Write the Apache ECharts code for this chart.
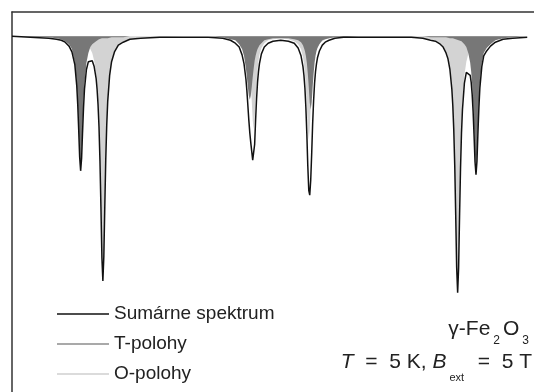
<!DOCTYPE html>
<html lang="sk">
  <head>
    <meta charset="UTF-8" />
    <title>Mössbauerovo spektrum γ-Fe2O3</title>
    <script src="https://cdn.jsdelivr.net/npm/echarts@6/dist/echarts.min.js"></script>
    <style>
      html, body { margin: 0; padding: 0; background: #fff; }
      #chart { width: 534px; height: 392px; }
    </style>
  </head>
  <body>
    <div id="chart"></div>
  </body>
</html>
<script>
  // kanály (os x) a relatívna absorpcia v % (0 = základná čiara)
  const channels = [
    0, 38, 46, 51, 55, 59, 62, 65, 67, 68,
    69, 70, 71, 72, 73, 74, 75, 77, 79, 81,
    83, 85, 87, 88, 89, 90, 91, 92, 93, 94,
    95, 96, 97, 98, 99, 101, 103, 106, 110, 115,
    122, 133, 153, 178, 203, 218, 226, 231, 235, 238,
    240, 242, 243, 244, 245, 246, 247, 248, 249, 250,
    251, 252, 253, 254, 255, 256, 258, 261, 265, 270,
    278, 286, 292, 296, 299, 301, 302, 303, 304, 305,
    306, 307, 308, 309, 310, 311, 312, 313, 314, 315,
    316, 318, 321, 324, 328, 334, 343, 358, 378, 398,
    413, 425, 433, 438, 443, 446, 449, 451, 453, 455,
    456, 457, 458, 459, 460, 461, 462, 463, 464, 465,
    466, 468, 470, 472, 474, 475, 476, 477, 478, 479,
    480, 481, 482, 483, 484, 486, 488, 491, 495, 500,
    508, 518, 533,
  ];
  const tPolohy = [
    0, -0.1, -0.2, -0.3, -0.5, -0.8, -1.3, -2.7, -4.8, -6.7,
    -9.3, -12.1, -13.4, -12.1, -9.3, -6.7, -4.8, -2.7, -1.7, -1.1,
    -0.8, -0.6, -0.5, -0.4, -0.4, -0.3, -0.3, -0.3, -0.2, -0.2,
    -0.2, -0.2, -0.2, -0.2, -0.2, -0.1, -0.1, -0.1, -0.1, -0.1,
    0, 0, 0, 0, 0, -0.1, -0.3, -0.4, -0.8, -1.3,
    -2.0, -3.3, -4.2, -5.2, -6.1, -6.5, -6.1, -5.2, -4.2, -3.3,
    -2.5, -2.0, -1.6, -1.3, -1.1, -0.9, -0.7, -0.4, -0.3, -0.2,
    -0.2, -0.2, -0.3, -0.4, -0.6, -0.9, -1.2, -1.5, -2.0, -2.7,
    -3.8, -5.2, -6.8, -7.5, -6.8, -5.2, -3.8, -2.7, -2.0, -1.5,
    -1.2, -0.8, -0.4, -0.3, -0.2, -0.1, -0.1, 0, 0, 0,
    0, 0, -0.1, -0.1, -0.1, -0.1, -0.1, -0.1, -0.2, -0.2,
    -0.2, -0.2, -0.2, -0.3, -0.3, -0.3, -0.4, -0.4, -0.5, -0.5,
    -0.6, -0.8, -1.1, -1.7, -2.7, -3.6, -4.9, -6.8, -9.4, -12.2,
    -13.6, -12.2, -9.4, -6.8, -4.9, -2.7, -1.7, -1.2, -0.8, -0.4,
    -0.2, -0.1, 0,
  ];
  const oPolohy = [
    0, -0.1, -0.1, -0.1, -0.1, -0.2, -0.2, -0.3, -0.3, -0.3,
    -0.4, -0.4, -0.4, -0.5, -0.5, -0.5, -0.6, -0.8, -1.0, -1.3,
    -1.7, -2.5, -3.9, -5.0, -6.6, -9.0, -12.5, -17.2, -22.4, -24.9,
    -22.4, -17.2, -12.5, -9.0, -6.6, -3.9, -2.5, -1.5, -0.8, -0.5,
    -0.3, -0.1, -0.1, 0, 0, -0.1, -0.2, -0.2, -0.4, -0.6,
    -0.8, -1.2, -1.5, -1.9, -2.5, -3.4, -4.8, -6.6, -8.6, -9.5,
    -8.6, -6.6, -4.8, -3.4, -2.5, -1.9, -1.2, -0.7, -0.4, -0.3,
    -0.2, -0.3, -0.5, -0.8, -1.3, -2.1, -2.8, -3.8, -5.3, -7.3,
    -9.5, -10.6, -9.5, -7.3, -5.3, -3.8, -2.8, -2.1, -1.6, -1.3,
    -1.1, -0.7, -0.5, -0.3, -0.2, -0.1, -0.1, -0.1, -0.1, -0.1,
    -0.1, -0.2, -0.3, -0.4, -0.7, -1.0, -1.5, -2.1, -3.2, -5.2,
    -6.9, -9.4, -13.0, -18.0, -23.4, -26.0, -23.4, -18.0, -13.0, -9.4,
    -6.9, -4.0, -2.6, -1.8, -1.3, -1.1, -1.0, -0.9, -0.8, -0.7,
    -0.6, -0.6, -0.5, -0.5, -0.4, -0.4, -0.3, -0.3, -0.2, -0.2,
    -0.1, -0.1, 0,
  ];
  const sumarne = [
    0, -0.2, -0.3, -0.4, -0.6, -1.0, -1.6, -2.9, -5.1, -7.0,
    -9.6, -12.4, -13.8, -12.5, -9.8, -7.3, -5.4, -3.4, -2.6, -2.4,
    -2.5, -3.1, -4.3, -5.4, -7.0, -9.3, -12.8, -17.5, -22.7, -25.1,
    -22.6, -17.4, -12.6, -9.1, -6.7, -4.0, -2.6, -1.6, -0.9, -0.6,
    -0.3, -0.2, -0.1, -0.1, -0.1, -0.2, -0.4, -0.7, -1.1, -1.9,
    -2.8, -4.4, -5.6, -7.1, -8.6, -9.9, -10.9, -11.8, -12.7, -12.8,
    -11.1, -8.6, -6.4, -4.7, -3.6, -2.8, -1.8, -1.1, -0.7, -0.5,
    -0.4, -0.5, -0.7, -1.2, -2.0, -3.1, -4.0, -5.3, -7.3, -10.0,
    -13.3, -15.8, -16.3, -14.8, -12.1, -9.0, -6.6, -4.8, -3.6, -2.8,
    -2.2, -1.5, -0.9, -0.6, -0.4, -0.2, -0.1, -0.1, -0.1, -0.1,
    -0.1, -0.2, -0.4, -0.5, -0.8, -1.1, -1.7, -2.3, -3.4, -5.4,
    -7.1, -9.6, -13.2, -18.3, -23.7, -26.3, -23.8, -18.4, -13.5, -9.9,
    -7.5, -4.8, -3.7, -3.5, -4.0, -4.7, -5.9, -7.7, -10.2, -12.9,
    -14.2, -12.8, -9.9, -7.3, -5.3, -3.1, -2.0, -1.5, -1.0, -0.6,
    -0.3, -0.2, -0.1,
  ];
  const seriesNames = ["Sumárne spektrum", "T-polohy", "O-polohy"];

  const pairs = (arr) => channels.map((c, i) => [c, arr[i]]);
  const font = "'Liberation Sans', Arial, sans-serif";

  const chart = echarts.init(document.getElementById("chart"));
  const option = {
    animation: false,
    backgroundColor: "#fff",
    grid: { left: 12, top: 12, right: -18, bottom: -10 },
    xAxis: {
      type: "value",
      min: 0,
      max: 540,
      position: "top",
      axisLine: { show: true, onZero: false, lineStyle: { color: "#333", width: 1.5 } },
      axisTick: { show: false },
      axisLabel: { show: false },
      splitLine: { show: false },
    },
    yAxis: {
      type: "value",
      min: -36.5,
      max: 2.5,
      axisLine: { show: true, onZero: false, lineStyle: { color: "#333", width: 1.5 } },
      axisTick: { show: false },
      axisLabel: { show: false },
      splitLine: { show: false },
    },
    legend: {
      left: 57,
      top: 299,
      padding: 0,
      orient: "vertical",
      icon: "rect",
      itemWidth: 52,
      itemHeight: 1.5,
      itemGap: 0,
      textStyle: { fontFamily: font, fontSize: 19, lineHeight: 30, color: "#222" },
      data: [
        { name: seriesNames[0], itemStyle: { color: "#111" } },
        { name: seriesNames[1], itemStyle: { color: "#8c8c8c" } },
        { name: seriesNames[2], itemStyle: { color: "#cfcfcf" } },
      ],
    },
    series: [
      {
        name: seriesNames[2],
        type: "line",
        data: pairs(oPolohy),
        showSymbol: false,
        symbol: "none",
        color: "#cfcfcf",
        lineStyle: { width: 0 },
        areaStyle: { color: "#d3d3d3", opacity: 1 },
      },
      {
        name: seriesNames[1],
        type: "line",
        data: pairs(tPolohy),
        showSymbol: false,
        symbol: "none",
        color: "#8c8c8c",
        lineStyle: { width: 0 },
        areaStyle: { color: "#777", opacity: 1 },
      },
      {
        name: seriesNames[0],
        type: "line",
        data: pairs(sumarne),
        showSymbol: false,
        symbol: "none",
        color: "#111",
        lineStyle: { color: "#111", width: 1.5 },
      },
    ],
    graphic: [
      {
        type: "text",
        x: 532,
        y: 319,
        style: {
          text: "{n|γ-Fe}{s|2}{n|O}{s|3}",
          align: "right",
          verticalAlign: "top",
          fill: "#222",
          rich: {
            n: { fontFamily: font, fontSize: 21, lineHeight: 22, verticalAlign: "top", padding: [0, 0, 14, 0] },
            s: { fontFamily: font, fontSize: 12, lineHeight: 12, verticalAlign: "top", padding: [16, 3, 0, 3] },
          },
        },
      },
      {
        type: "text",
        x: 532,
        y: 352,
        style: {
          text: "{i|T}{n|  =  5 K, }{i|B}{s|ext}{n|  =  5 T}",
          align: "right",
          verticalAlign: "top",
          fill: "#222",
          rich: {
            n: { fontFamily: font, fontSize: 21, lineHeight: 22, verticalAlign: "top", padding: [0, 0, 16, 0] },
            i: { fontFamily: font, fontSize: 21, fontStyle: "italic", lineHeight: 22, verticalAlign: "top", padding: [0, 0, 16, 0] },
            s: { fontFamily: font, fontSize: 11, lineHeight: 12, verticalAlign: "top", padding: [20, 2, 0, 3] },
          },
        },
      },
    ],
  };
  chart.setOption(option);
</script>
